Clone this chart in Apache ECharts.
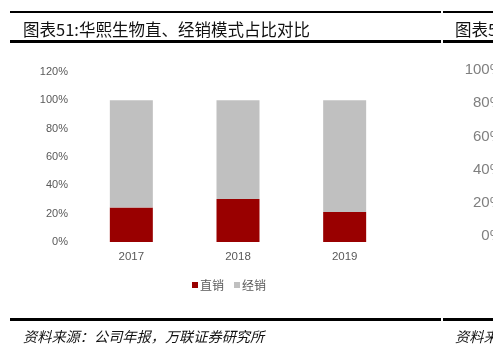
<!DOCTYPE html>
<html><head><meta charset="utf-8">
<script src="https://cdn.jsdelivr.net/npm/echarts@6/dist/echarts.min.js"></script>
<style>html,body{margin:0;padding:0;background:#fff}#c{width:493px;height:352px}</style>
</head><body><div id="c"></div>
<script>
const categories = ['2017', '2018', '2019'];
const directSales = [24.3, 30.3, 21.2];
const distribution = [75.7, 69.7, 78.8];
const seriesNames = ['直销', '经销'];
const rightTicks = [0, 20, 40, 60, 80, 100];

const chart = echarts.init(document.getElementById('c'), null, {renderer: 'canvas'});
const labelColor = '#595959';
chart.setOption({
  animation: false,
  backgroundColor: '#fff',
  title: [
    {text: '图表51:华熙生物直、经销模式占比对比', left: 18, top: 16,
     textStyle: {fontFamily: 'Noto Sans CJK SC', fontSize: 16.5, fontWeight: 'normal', color: '#111'}},
    {text: '图表52:', left: 450, top: 16,
     textStyle: {fontFamily: 'Noto Sans CJK SC', fontSize: 16.5, fontWeight: 'normal', color: '#111'}},
    {text: '资料来源：公司年报，万联证券研究所', left: 18, top: 325,
     textStyle: {fontFamily: 'Noto Sans CJK SC', fontSize: 14.2, fontStyle: 'italic', fontWeight: 'normal', color: '#111'}},
    {text: '资料来源：', left: 450, top: 325,
     textStyle: {fontFamily: 'Noto Sans CJK SC', fontSize: 14.2, fontStyle: 'italic', fontWeight: 'normal', color: '#111'}}
  ],
  graphic: [
    {type: 'rect', shape: {x: 10, y: 11, width: 431, height: 2}, style: {fill: '#000'}},
    {type: 'rect', shape: {x: 443, y: 11, width: 50, height: 2}, style: {fill: '#000'}},
    {type: 'rect', shape: {x: 10, y: 40, width: 431, height: 3}, style: {fill: '#000'}},
    {type: 'rect', shape: {x: 443, y: 40, width: 50, height: 3}, style: {fill: '#000'}},
    {type: 'rect', shape: {x: 10, y: 318, width: 431, height: 3}, style: {fill: '#000'}},
    {type: 'rect', shape: {x: 443, y: 318, width: 50, height: 3}, style: {fill: '#000'}}
  ],
  legend: {
    data: seriesNames, left: 187, top: 274, itemWidth: 6, itemHeight: 6, itemGap: 10,
    icon: 'rect',
    textStyle: {fontFamily: 'Noto Sans CJK SC', fontSize: 12, color: labelColor, padding: [0, 0, 0, -3]}
  },
  grid: [
    {left: 78, top: 72, width: 320, height: 170},
    {left: 511, top: 70, width: 100, height: 166}
  ],
  xAxis: [
    {type: 'category', data: categories, gridIndex: 0,
     axisLine: {show: false}, axisTick: {show: false},
     axisLabel: {color: labelColor, fontSize: 11.5, fontFamily: 'Liberation Sans', margin: 9}},
    {type: 'category', data: [], gridIndex: 1, show: false}
  ],
  yAxis: [
    {type: 'value', gridIndex: 0, min: 0, max: 120, interval: 20,
     axisLine: {show: false}, axisTick: {show: false}, splitLine: {show: false},
     axisLabel: {color: labelColor, fontSize: 11, fontFamily: 'Liberation Sans', margin: 10, formatter: '{value}%'}},
    {type: 'value', gridIndex: 1, min: rightTicks[0], max: rightTicks[rightTicks.length - 1], interval: 20,
     axisLine: {show: false}, axisTick: {show: false}, splitLine: {show: false},
     axisLabel: {color: '#7f7f7f', fontSize: 15, fontFamily: 'Liberation Sans', margin: 8, formatter: '{value}%'}}
  ],
  series: [
    {name: seriesNames[0], type: 'bar', stack: 'a', data: directSales, barWidth: 43,
     itemStyle: {color: '#990000'}},
    {name: seriesNames[1], type: 'bar', stack: 'a', data: distribution, barWidth: 43,
     itemStyle: {color: '#c0c0c0'}}
  ]
});
</script></body></html>
